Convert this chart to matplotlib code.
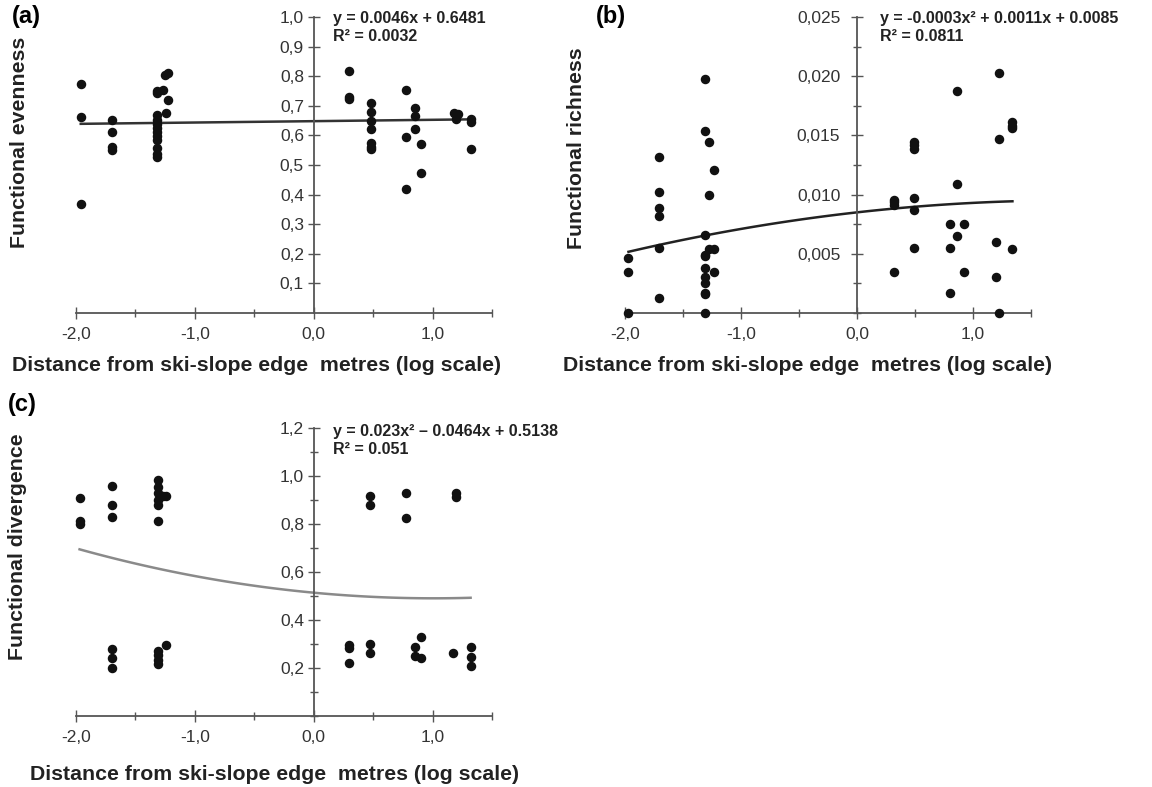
import numpy as np
import matplotlib
matplotlib.use('Agg')
from matplotlib import pyplot as plt
from matplotlib.ticker import MultipleLocator

plt.rcParams['font.family'] = ['Liberation Sans', 'DejaVu Sans']

# log10 distance values (x) and the three indices (y)
xa = [-1.96, -1.96, -1.96,
      -1.70, -1.70, -1.70, -1.70,
      -1.32, -1.32, -1.32, -1.32, -1.32, -1.32, -1.32, -1.32, -1.32, -1.32, -1.32, -1.32,
      -1.27, -1.25, -1.23, -1.23, -1.24,
      0.30, 0.30, 0.30,
      0.48, 0.48, 0.48, 0.48, 0.48, 0.48, 0.48,
      0.78, 0.78, 0.78,
      0.85, 0.85, 0.85,
      0.905, 0.905,
      1.18, 1.21, 1.20,
      1.32, 1.32, 1.32]
ya = [0.772, 0.662, 0.368,
      0.651, 0.610, 0.560, 0.552,
      0.750, 0.742, 0.668, 0.651, 0.638, 0.626, 0.612, 0.597, 0.584, 0.556, 0.537, 0.527,
      0.752, 0.803, 0.811, 0.719, 0.676,
      0.818, 0.730, 0.722,
      0.710, 0.679, 0.649, 0.620, 0.573, 0.561, 0.553,
      0.755, 0.593, 0.420,
      0.694, 0.665, 0.621,
      0.570, 0.474,
      0.674, 0.672, 0.654,
      0.654, 0.644, 0.553]

xb = [-1.97, -1.97, -1.97,
      -1.71, -1.71, -1.71, -1.71, -1.71, -1.71,
      -1.31, -1.31, -1.31, -1.31, -1.31, -1.31, -1.31, -1.31, -1.31, -1.31, -1.31,
      -1.28, -1.28, -1.28,
      -1.23, -1.23, -1.23,
      0.316, 0.316, 0.316, 0.316,
      0.49, 0.49, 0.49, 0.49, 0.49, 0.49,
      0.80, 0.80, 0.80,
      0.862, 0.862, 0.862,
      0.925, 0.925,
      1.22, 1.22, 1.22,
      1.198, 1.198,
      1.34, 1.34, 1.34, 1.34]
yb = [0.00462, 0.00349, 0.0,
      0.0132, 0.0102, 0.00884, 0.00819, 0.00546, 0.00129,
      0.0198, 0.0154, 0.00659, 0.0049, 0.0048, 0.00377, 0.00307, 0.00256, 0.00172, 0.0016, 0.0,
      0.01447, 0.00997, 0.00538,
      0.01208, 0.00538, 0.0035,
      0.00954, 0.00935, 0.00912, 0.00349,
      0.01447, 0.01419, 0.01385, 0.00974, 0.0087, 0.00546,
      0.00749, 0.00546, 0.00166,
      0.01878, 0.01087, 0.0065,
      0.00749, 0.00349,
      0.02024, 0.01467, 0.0,
      0.00602, 0.00301,
      0.01616, 0.0158, 0.0156, 0.00538]

xc = [-1.97, -1.97, -1.97,
      -1.70, -1.70, -1.70, -1.70, -1.70, -1.70,
      -1.31, -1.31, -1.31, -1.31, -1.31, -1.31, -1.31, -1.31, -1.31, -1.31,
      -1.27, -1.24, -1.24,
      0.30, 0.30, 0.30,
      0.477, 0.477, 0.477, 0.477,
      0.78, 0.78,
      0.85, 0.85,
      0.90, 0.90,
      1.175,
      1.20, 1.20,
      1.32, 1.32, 1.32]
yc = [0.907, 0.814, 0.800,
      0.958, 0.879, 0.828, 0.278, 0.240, 0.199,
      0.983, 0.955, 0.928, 0.900, 0.879, 0.814, 0.272, 0.254, 0.233, 0.217,
      0.917, 0.917, 0.296,
      0.296, 0.282, 0.220,
      0.917, 0.879, 0.300, 0.261,
      0.928, 0.824,
      0.286, 0.250,
      0.330, 0.240,
      0.264,
      0.928, 0.914,
      0.286, 0.247, 0.208]

# fitted trend lines as printed on the chart (a2*x^2 + a1*x + a0)
coef_a = [0.0, 0.0046, 0.6481]
coef_b = [-0.0003, 0.0011, 0.0085]
coef_c = [0.023, -0.0464, 0.5138]
eq_a = 'y = 0.0046x + 0.6481\nR² = 0.0032'
eq_b = 'y = -0.0003x² + 0.0011x + 0.0085\nR² = 0.0811'
eq_c = 'y = 0.023x² – 0.0464x + 0.5138\nR² = 0.051'

xtick_pos = [-2.0, -1.0, 0.0, 1.0]
xtick_lab = ['-2,0', '-1,0', '0,0', '1,0']
ytick_a = [0.1, 0.2, 0.3, 0.4, 0.5, 0.6, 0.7, 0.8, 0.9, 1.0]
ytick_b = [0.005, 0.010, 0.015, 0.020, 0.025]
ytick_c = [0.2, 0.4, 0.6, 0.8, 1.0, 1.2]

xlab = 'Distance from ski-slope edge  metres (log scale)'

W, H = 1152, 787
fig = plt.figure(figsize=(W / 100, H / 100), dpi=100)

ax_a = fig.add_axes([76 / W, 1 - 313 / H, 416 / W, 296 / H])
ax_b = fig.add_axes([625 / W, 1 - 313 / H, 406 / W, 296 / H])
ax_c = fig.add_axes([76 / W, 1 - 716 / H, 416 / W, 288 / H])


def style(ax, ymax, yticks, ylabs, yminor):
    ax.set_xlim(-2.0, 1.5)
    ax.set_ylim(0, ymax)
    for s in ['top', 'right']:
        ax.spines[s].set_visible(False)
    ax.spines['left'].set_position(('data', 0))
    for s in ['left', 'bottom']:
        ax.spines[s].set_color('#555555')
        ax.spines[s].set_linewidth(1.3)
    ax.set_xticks(xtick_pos)
    ax.set_xticklabels(xtick_lab)
    ax.xaxis.set_minor_locator(MultipleLocator(0.5))
    ax.set_yticks(yticks)
    ax.set_yticklabels(ylabs)
    if yminor:
        ax.yaxis.set_minor_locator(MultipleLocator(yminor))
    ax.tick_params(which='both', direction='inout', color='#555555', width=1)
    ax.tick_params(which='major', length=8, labelsize=12.5, labelcolor='#333333')
    ax.tick_params(which='minor', length=6)
    ax.tick_params(axis='x', pad=6)
    ax.tick_params(axis='y', pad=3)


def trend(ax, coef, x0, x1, col):
    xs = np.linspace(x0, x1, 100)
    ax.plot(xs, np.polyval(coef, xs), color=col, lw=1.8, zorder=2)


# (a)
ax_a.scatter(xa, ya, s=34, color='#111111', zorder=3, clip_on=False)
trend(ax_a, coef_a, -1.96, 1.34, '#333333')
style(ax_a, 1.0, ytick_a, ['0,1', '0,2', '0,3', '0,4', '0,5', '0,6', '0,7', '0,8', '0,9', '1,0'], None)
ax_a.text(0.617, 1.02, eq_a, transform=ax_a.transAxes, ha='left', va='top',
          fontsize=11.5, fontweight='bold', color='#222222', linespacing=1.25)

# (b)
ax_b.scatter(xb, yb, s=34, color='#111111', zorder=3, clip_on=False)
trend(ax_b, coef_b, -1.97, 1.34, '#222222')
style(ax_b, 0.025, ytick_b, ['0,005', '0,010', '0,015', '0,020', '0,025'], 0.0025)
ax_b.tick_params(axis='y', pad=8)
ax_b.text(0.628, 1.02, eq_b, transform=ax_b.transAxes, ha='left', va='top',
          fontsize=11.5, fontweight='bold', color='#222222', linespacing=1.25)

# (c)
ax_c.scatter(xc, yc, s=34, color='#111111', zorder=3, clip_on=False)
trend(ax_c, coef_c, -1.97, 1.32, '#8a8a8a')
style(ax_c, 1.2, ytick_c, ['0,2', '0,4', '0,6', '0,8', '1,0', '1,2'], 0.1)
ax_c.text(0.617, 1.015, eq_c, transform=ax_c.transAxes, ha='left', va='top',
          fontsize=11.5, fontweight='bold', color='#222222', linespacing=1.25)

# panel letters, axis titles
lab = dict(fontsize=15.3, fontweight='bold', color='#222222')
fig.text(12 / W, 1 - 17 / H, '(a)', ha='left', va='center', fontsize=17, fontweight='bold')
fig.text(596 / W, 1 - 17 / H, '(b)', ha='left', va='center', fontsize=17, fontweight='bold')
fig.text(8 / W, 1 - 405 / H, '(c)', ha='left', va='center', fontsize=17, fontweight='bold')

fig.text(20 / W, 1 - 142 / H, 'Functional evenness', rotation=90, ha='center', va='center', **lab)
fig.text(577 / W, 1 - 148 / H, 'Functional richness', rotation=90, ha='center', va='center', **lab)
fig.text(18 / W, 1 - 547 / H, 'Functional divergence', rotation=90, ha='center', va='center', **lab)

fig.text(12 / W, 1 - 366 / H, xlab, ha='left', va='center', **lab)
fig.text(563 / W, 1 - 366 / H, xlab, ha='left', va='center', **lab)
fig.text(30 / W, 1 - 775 / H, xlab, ha='left', va='center', **lab)

plt.savefig('out.png', dpi=100)
